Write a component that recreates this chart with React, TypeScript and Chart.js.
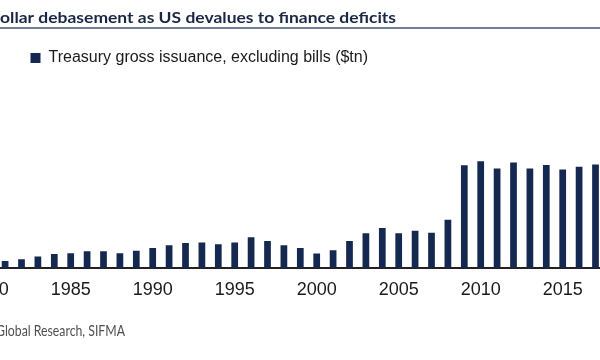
import React, { useEffect, useRef } from "react";
import { Chart, registerables } from "chart.js";

Chart.register(...registerables);

const YEARS = [
  1980, 1981, 1982, 1983, 1984, 1985, 1986, 1987, 1988, 1989,
  1990, 1991, 1992, 1993, 1994, 1995, 1996, 1997, 1998, 1999,
  2000, 2001, 2002, 2003, 2004, 2005, 2006, 2007, 2008, 2009,
  2010, 2011, 2012, 2013, 2014, 2015, 2016, 2017,
];

// Treasury gross issuance, excluding bills ($tn)
const ISSUANCE = [
  0.12, 0.15, 0.19, 0.25, 0.30, 0.32, 0.36, 0.36, 0.32, 0.37,
  0.43, 0.49, 0.54, 0.55, 0.51, 0.55, 0.66, 0.58, 0.49, 0.43,
  0.31, 0.38, 0.58, 0.75, 0.86, 0.75, 0.80, 0.76, 1.04, 2.21,
  2.30, 2.14, 2.27, 2.14, 2.22, 2.12, 2.18, 2.23,
];

const TICK_YEARS = [1980, 1985, 1990, 1995, 2000, 2005, 2010, 2015];

const TITLE = "Dollar debasement as US devalues to finance deficits";
const LEGEND_LABEL = "Treasury gross issuance, excluding bills ($tn)";
const SOURCE = "Source: BofA Global Research, SIFMA";

const NAVY = "#142850";
const OFFSET = 60; // canvas shifted left (the reference is a crop)

const overlay = {
  id: "overlay",
  afterDraw(chart: any) {
    const ctx = chart.ctx as CanvasRenderingContext2D;
    ctx.save();
    // title
    ctx.font = "bold 16px Lato, 'Liberation Sans', sans-serif";
    ctx.fillStyle = "#1a2744";
    ctx.textAlign = "right";
    ctx.textBaseline = "alphabetic";
    const sT = 396 / ctx.measureText(TITLE.slice(1)).width;
    ctx.save();
    ctx.translate(OFFSET + 396, 22.5);
    ctx.scale(sT, 1);
    ctx.fillText(TITLE, 0, 0);
    ctx.restore();
    // rule
    ctx.strokeStyle = "#6f7f95";
    ctx.lineWidth = 2;
    ctx.beginPath();
    ctx.moveTo(0, 28);
    ctx.lineTo(chart.width, 28);
    ctx.stroke();
    // source
    ctx.font = "15px Lato, 'Liberation Sans', sans-serif";
    ctx.fillStyle = "#505050";
    const sS = 129 / ctx.measureText("Global Research, SIFMA").width;
    ctx.save();
    ctx.translate(OFFSET + 125, 336);
    ctx.scale(sS, 1);
    ctx.fillText(SOURCE, 0, 0);
    ctx.restore();
    ctx.restore();
  },
};

export default function App() {
  const ref = useRef<HTMLCanvasElement>(null);
  useEffect(() => {
    if (!ref.current) return;
    const chart = new Chart(ref.current, {
      type: "bar",
      data: {
        labels: YEARS.map(String),
        datasets: [
          {
            label: LEGEND_LABEL,
            data: ISSUANCE,
            backgroundColor: NAVY,
            borderWidth: 0,
            categoryPercentage: 1,
            barPercentage: 0.41,
          },
        ],
      },
      options: {
        responsive: false,
        animation: false,
        devicePixelRatio: 1,
        layout: { padding: { left: 40.5, right: 66.3, top: -3, bottom: 42 } },
        plugins: {
          legend: {
            position: "chartArea" as any,
            align: "start",
            labels: {
              boxWidth: 10,
              boxHeight: 10,
              padding: 50,
              color: "#1a1a1a",
              font: { family: "'Liberation Sans', Arial, sans-serif", size: 16 },
            },
          },
          tooltip: { enabled: false },
          title: { display: false },
        },
        scales: {
          x: {
            grid: { display: false, drawTicks: false },
            border: { display: true, color: "#222222", width: 2 },
            ticks: {
              autoSkip: false,
              maxRotation: 0,
              padding: 11,
              color: "#1a1a1a",
              font: { family: "'Liberation Sans Narrow', 'Liberation Sans', sans-serif", size: 18 },
              callback: (_v: any, index: number) => {
                const y = YEARS[index];
                return TICK_YEARS.includes(y) ? String(y) : "";
              },
            },
            afterFit: (scale: any) => {
              scale.height = 50;
            },
          },
          y: { display: false, min: 0, max: 5.77 },
        },
      },
      plugins: [overlay],
    });
    return () => chart.destroy();
  }, []);
  return (
    <div
      style={{
        position: "fixed",
        left: 0,
        top: 0,
        width: 600,
        height: 360,
        overflow: "hidden",
        background: "#fff",
      }}
    >
      <canvas
        ref={ref}
        width={730}
        height={360}
        style={{ position: "absolute", left: -OFFSET, top: 0, width: 730, height: 360 }}
      />
    </div>
  );
}
